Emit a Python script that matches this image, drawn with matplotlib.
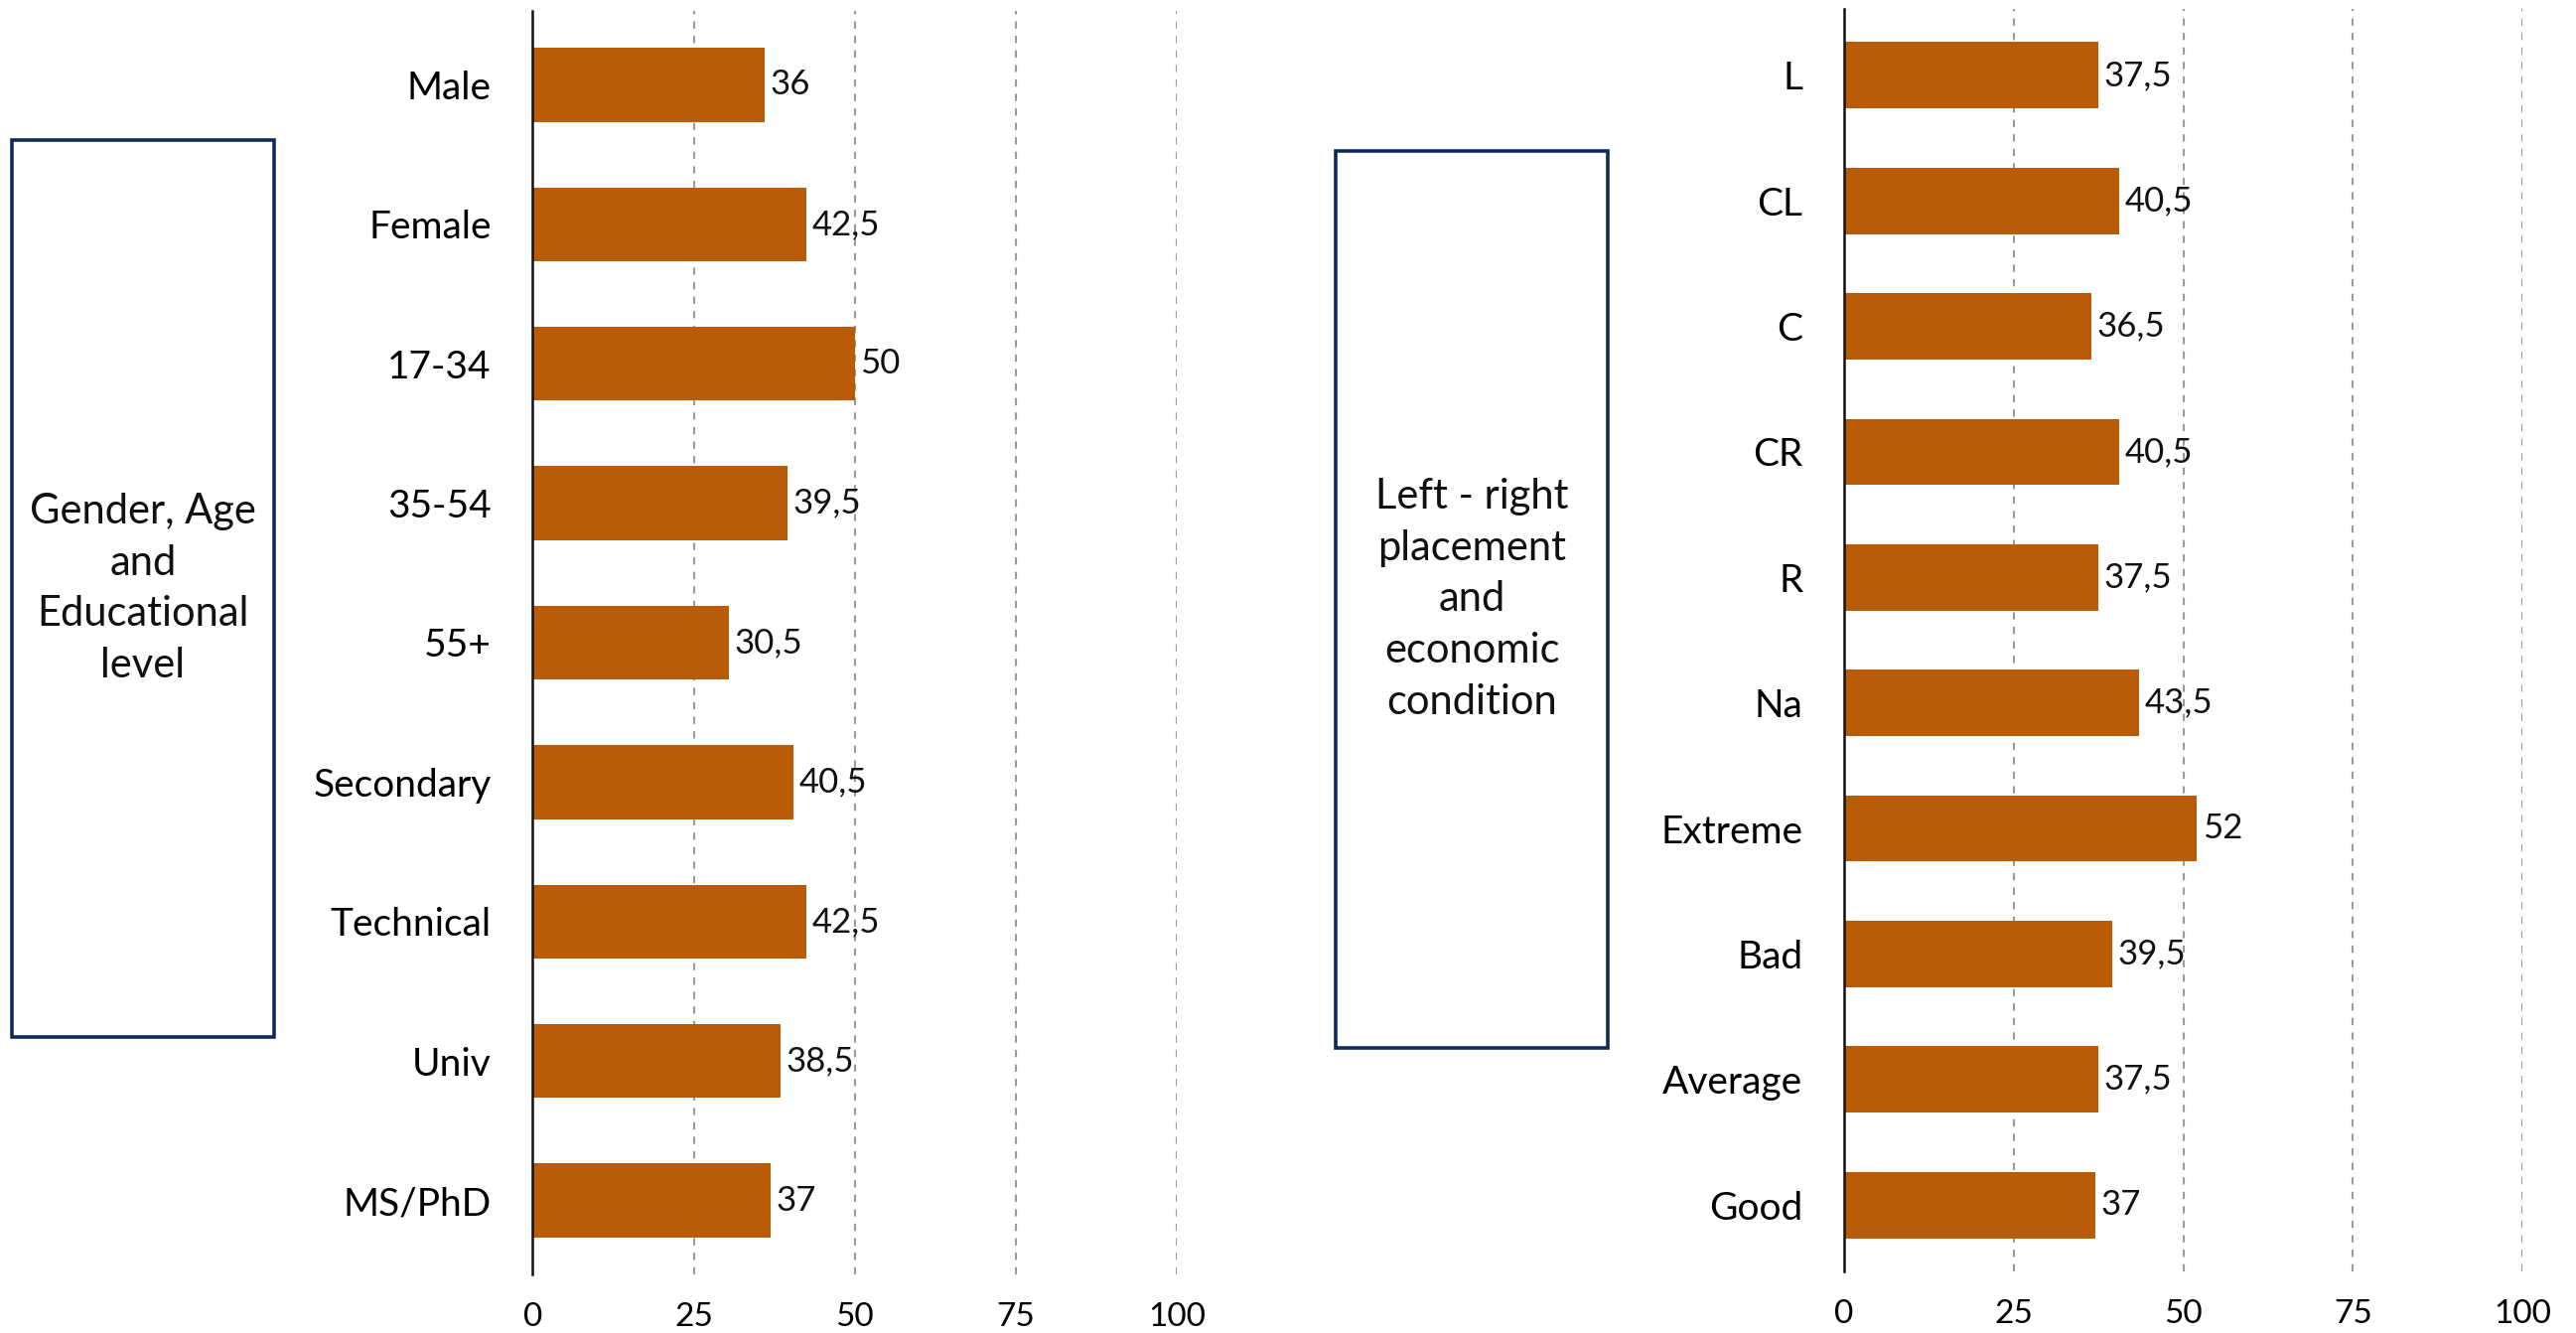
import matplotlib.pyplot as plt
from matplotlib.patches import Rectangle

plt.rcParams['font.family'] = ['Lato', 'DejaVu Sans']

# datos panel izquierdo
cat_izq = ['Male', 'Female', '17-34', '35-54', '55+', 'Secondary', 'Technical', 'Univ', 'MS/PhD']
val_izq = [36, 42.5, 50, 39.5, 30.5, 40.5, 42.5, 38.5, 37]

# datos panel derecho
cat_der = ['L', 'CL', 'C', 'CR', 'R', 'Na', 'Extreme', 'Bad', 'Average', 'Good']
val_der = [37.5, 40.5, 36.5, 40.5, 37.5, 43.5, 52, 39.5, 37.5, 37]

ticks_x = [0, 25, 50, 75, 100]

texto_izq = 'Gender, Age\nand\nEducational\nlevel'
texto_der = 'Left - right\nplacement\nand\neconomic\ncondition'

color_barra = '#BA5B08'
color_caja = '#0E2A5A'

fig = plt.figure(figsize=(25.94, 13.42), dpi=100)


def fmt(v):
    s = f'{v:g}'
    return s.replace('.', ',')


def panel(pos, cats, vals):
    ax = fig.add_axes(pos)
    y = list(range(len(cats)))
    ax.barh(y, vals, height=0.53, color=color_barra, zorder=3)
    for yi, v in zip(y, vals):
        ax.annotate(fmt(v), (v, yi), xytext=(4, 0), textcoords='offset points',
                    va='center', ha='left', fontsize=25, color='#111111')
    ax.set_ylim(len(cats) - 0.47, -0.53)
    ax.set_xlim(0, 100)
    ax.set_yticks(y)
    ax.set_yticklabels(cats, fontsize=28)
    ax.set_xticks(ticks_x)
    ax.set_xticklabels([str(t) for t in ticks_x], fontsize=24)
    ax.tick_params(axis='y', length=0, pad=30)
    ax.tick_params(axis='x', length=0, pad=20)
    for t in ticks_x[1:]:
        ax.axvline(t, color='#9a9a9a', linestyle=(0, (3.5, 3.5)), linewidth=1.5, zorder=1)
    for s in ['top', 'right', 'bottom']:
        ax.spines[s].set_visible(False)
    ax.spines['left'].set_linewidth(1.8)
    ax.spines['left'].set_color('#111111')
    ax.spines['left'].set_zorder(4)
    return ax


panel([0.2068, 0.0440, 0.2500, 0.9478], cat_izq, val_izq)
panel([0.7159, 0.0462, 0.2633, 0.9471], cat_der, val_der)


def caja(x0, y0, x1, y1, texto):
    W, H = 2594, 1342
    r = Rectangle((x0 / W, 1 - y1 / H), (x1 - x0) / W, (y1 - y0) / H,
                  transform=fig.transFigure, fill=False, edgecolor=color_caja,
                  linewidth=2.6)
    fig.patches.append(r)
    fig.text((x0 + x1) / 2 / W, 1 - (y0 + y1) / 2 / H, texto, ha='center', va='center',
             fontsize=30, linespacing=1.45, color='#111111')


caja(12, 141, 276, 1044, texto_izq)
caja(1345, 152, 1619, 1055, texto_der)

plt.savefig('out.png', dpi=100)
